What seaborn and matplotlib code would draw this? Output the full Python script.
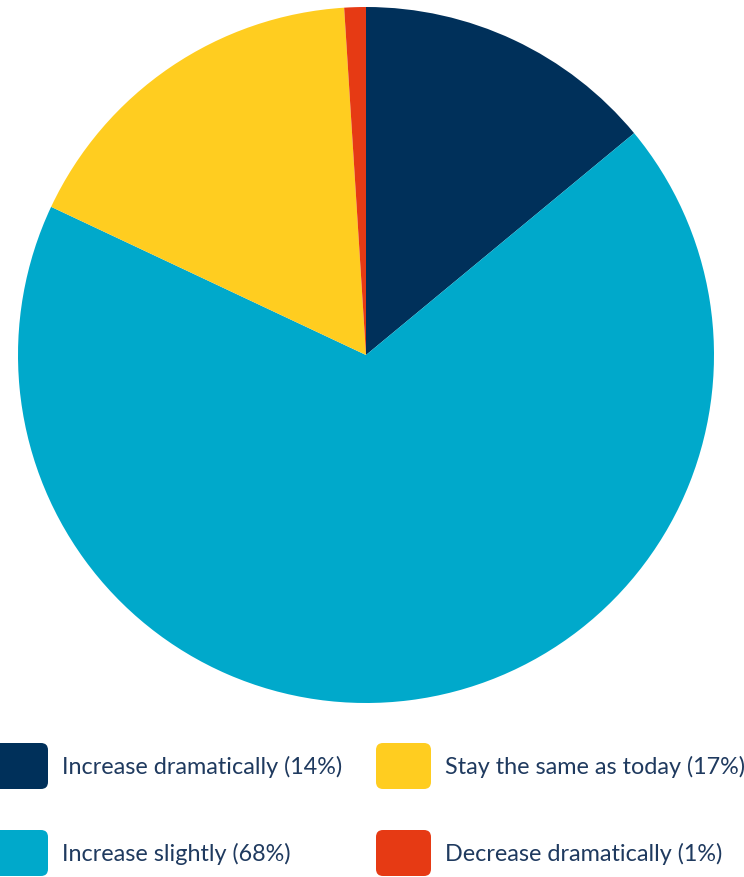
import matplotlib
matplotlib.use("Agg")
import matplotlib.pyplot as plt
from matplotlib.patches import FancyBboxPatch
import seaborn as sns

# Survey answers, in the order they run clockwise from twelve o'clock
categories = ["Increase dramatically", "Increase slightly", "Stay the same as today", "Decrease dramatically"]
shares = [14, 68, 17, 1]
colors = ["#00305A", "#00A9CB", "#FFCD20", "#E63A14"]

sns.set_theme(style="white")
plt.rcParams["font.family"] = ["Lato", "DejaVu Sans"]

W, H = 744, 877
fig = plt.figure(figsize=(W / 100, H / 100), dpi=100)
fig.patch.set_facecolor("white")

# Pie area: centre (366, 355) px, radius 348 px
cx, cy, r = 366, 355, 348
ax = fig.add_axes([(cx - r) / W, 1 - (cy + r) / H, 2 * r / W, 2 * r / H])
ax.pie(shares, colors=colors, startangle=90, counterclock=False,
       radius=1, wedgeprops=dict(linewidth=0))
ax.set_xlim(-1, 1)
ax.set_ylim(-1, 1)
ax.set_aspect("equal")
ax.axis("off")

# Legend: two columns, two rows, rounded swatches
lax = fig.add_axes([0, 0, 1, 1])
lax.set_xlim(0, W)
lax.set_ylim(H, 0)
lax.axis("off")
lax.patch.set_alpha(0)

order = [0, 2, 1, 3]  # reading order of the grid: row by row
slots = [(-7, 743), (376, 743), (-7, 830), (376, 830)]
for idx, (x, y) in zip(order, slots):
    sw, sh = 55, 46
    lax.add_patch(FancyBboxPatch((x, y), sw, sh,
                                 boxstyle="round,pad=0,rounding_size=7",
                                 facecolor=colors[idx], edgecolor="none"))
    lax.text(x + sw + 14, y + sh / 2 + 1, f"{categories[idx]} ({shares[idx]}%)",
             va="center", ha="left", fontsize=16.8, color="#1F3A5F")

fig.savefig("out.png", dpi=100, facecolor="white")
